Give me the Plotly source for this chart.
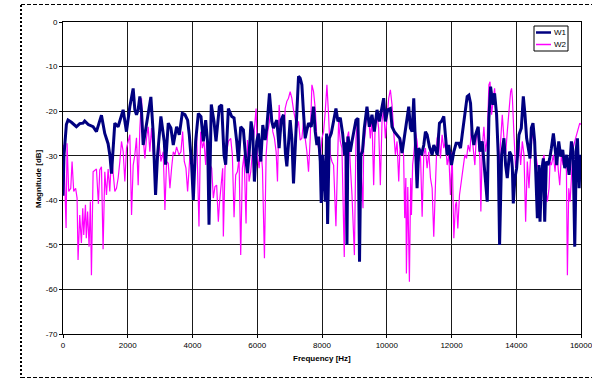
import plotly.graph_objects as go

# ---- data ----
W1_FREQ = [0, 30, 104, 155, 260, 414, 517, 620, 671, 780,
           929, 1033, 1188, 1290, 1393, 1450, 1498, 1550, 1600, 1703,
           1857, 1960, 2064, 2167, 2219, 2270, 2321, 2374, 2425, 2477,
           2580, 2714, 2787, 2859, 2920, 3024, 3127, 3168, 3251, 3333,
           3406, 3509, 3592, 3684, 3767, 3849, 3901, 3973, 4025, 4097,
           4180, 4262, 4335, 4407, 4469, 4510, 4580, 4664, 4726, 4829,
           4901, 4973, 5025, 5108, 5211, 5283, 5366, 5417, 5489, 5572,
           5644, 5696, 5747, 5809, 5861, 5912, 5985, 6036, 6109, 6171,
           6243, 6294, 6377, 6449, 6501, 6604, 6676, 6738, 6810, 6870,
           6914, 6965, 7017, 7068, 7120, 7172, 7223, 7275, 7326, 7378,
           7430, 7481, 7533, 7584, 7667, 7739, 7791, 7842, 7894, 7946,
           7976, 8020, 8100, 8142, 8173, 8224, 8286, 8358, 8431, 8492,
           8565, 8637, 8699, 8740, 8771, 8802, 8874, 8926, 8990, 9050,
           9112, 9159, 9200, 9250, 9307, 9389, 9462, 9544, 9617, 9699,
           9771, 9823, 9905, 9957, 10029, 10112, 10163, 10236, 10318, 10401,
           10473, 10525, 10607, 10679, 10731, 10783, 10834, 10886, 10937, 10989,
           11072, 11144, 11195, 11247, 11319, 11402, 11453, 11504, 11560, 11628,
           11690, 11762, 11814, 11865, 11917, 11999, 12072, 12144, 12226, 12278,
           12330, 12412, 12484, 12536, 12588, 12639, 12691, 12742, 12825, 12877,
           12949, 13052, 13104, 13155, 13207, 13279, 13331, 13393, 13444, 13485,
           13548, 13620, 13671, 13723, 13795, 13850, 13880, 13909, 13960, 14012,
           14084, 14156, 14218, 14270, 14321, 14373, 14425, 14466, 14517, 14569,
           14610, 14652, 14703, 14734, 14786, 14837, 14879, 14930, 14982, 15034,
           15085, 15147, 15199, 15250, 15312, 15374, 15436, 15498, 15560, 15632,
           15704, 15756, 15807, 15859, 15890, 15942, 15983, 16000]
W1_MAG = [-39, -30, -23, -22, -22.5, -23.5, -22.8, -22.7, -22.2, -23,
          -23.5, -24.6, -20.9, -25, -27.3, -30, -34, -28, -22.7, -23.5,
          -19.7, -24.6, -19, -14.9, -19.7, -20.8, -19.7, -16.7, -20, -27.6,
          -23, -16.8, -25, -38.8, -30, -21.2, -26.8, -32, -22.7, -23.8,
          -27.6, -23.5, -25.3, -20.5, -20.8, -22, -25.3, -32, -39.9, -26.8,
          -20.5, -21.2, -26.8, -22, -27.2, -45.5, -18.5, -22.3, -26.8, -19,
          -18.6, -29.8, -32, -19.4, -21.2, -21.5, -26.8, -31.3, -23.5, -24.2,
          -30.6, -33.9, -29.8, -22.3, -24.6, -35.8, -26.8, -25, -31.3, -23.1,
          -26.5, -23.8, -16, -22.3, -23.8, -22, -28.3, -22, -20.8, -29.5,
          -32.4, -26.8, -22, -26.1, -36.2, -28.3, -20.5, -12.2, -12.6, -14.1,
          -20.5, -26.1, -24.2, -22.7, -23.5, -19, -24.6, -27.6, -25.7, -31.3,
          -40.6, -29.8, -40.3, -25, -45.3, -26.1, -25, -22, -19.4, -22.3,
          -21.5, -25, -29.8, -27, -50, -25.7, -29.1, -26.8, -23.8, -22,
          -21.6, -53.8, -29.8, -29, -23.8, -19, -23.5, -20.8, -24.6, -19.7,
          -22.3, -20.5, -17.1, -22.3, -19.7, -19.4, -23.5, -24.6, -25.3, -26.1,
          -29.4, -26.5, -22.3, -19, -23.8, -24.6, -17.1, -26.1, -37.3, -28.3,
          -29.8, -27.6, -24.6, -25.3, -28, -29.8, -27.6, -28.5, -29.8, -22.7,
          -22.3, -21.2, -26.8, -29.8, -27.6, -32.1, -29.1, -27.2, -27.2, -28.3,
          -25.3, -20.8, -16.7, -16.4, -18.2, -25.3, -27.6, -25.3, -23.5, -29.1,
          -26.8, -35.8, -40.3, -21.6, -14.5, -18.6, -16, -20.8, -29.8, -50,
          -29.8, -26.1, -32.1, -35, -29.1, -30, -32.8, -40.7, -35, -32.8,
          -25.3, -23.8, -16.7, -20.8, -26.1, -28.3, -30.6, -23.8, -22.7, -26.8,
          -34.3, -44, -32.1, -44.8, -33.6, -30.6, -44.8, -31.3, -32.1, -30.6,
          -28.3, -25, -28.3, -32.1, -26.8, -30.2, -28.7, -32.8, -29.8, -34.3,
          -26.8, -29.1, -50.4, -28.3, -26.1, -37.3, -29.8, -31]

W2_FREQ = [0, 22, 53, 95, 125, 177, 239, 280, 331, 390,
           435, 465, 517, 568, 610, 641, 693, 720, 760, 806,
           845, 878, 930, 982, 1033, 1094, 1136, 1188, 1238, 1291,
           1343, 1394, 1446, 1498, 1549, 1601, 1652, 1704, 1756, 1807,
           1859, 1910, 1962, 2014, 2065, 2117, 2168, 2219, 2270, 2322,
           2374, 2425, 2477, 2529, 2580, 2632, 2683, 2735, 2787, 2838,
           2869, 2920, 2962, 3024, 3096, 3148, 3199, 3251, 3303, 3354,
           3406, 3457, 3509, 3581, 3643, 3695, 3746, 3798, 3849, 3922,
           3973, 4025, 4077, 4128, 4200, 4252, 4303, 4355, 4407, 4438,
           4490, 4540, 4592, 4643, 4695, 4746, 4798, 4829, 4880, 4932,
           4953, 5004, 5056, 5108, 5180, 5231, 5283, 5334, 5386, 5438,
           5489, 5541, 5593, 5654, 5696, 5747, 5799, 5851, 5902, 5933,
           5964, 6005, 6057, 6109, 6160, 6222, 6274, 6325, 6377, 6429,
           6480, 6532, 6583, 6625, 6676, 6728, 6790, 6841, 6862, 6914,
           6965, 7017, 7068, 7120, 7172, 7223, 7275, 7326, 7378, 7430,
           7481, 7533, 7584, 7636, 7688, 7739, 7791, 7842, 7894, 7946,
           7997, 8049, 8100, 8152, 8203, 8255, 8307, 8358, 8430, 8461,
           8513, 8565, 8616, 8688, 8720, 8771, 8823, 8874, 8926, 9001,
           9050, 9101, 9153, 9200, 9266, 9286, 9338, 9389, 9441, 9493,
           9544, 9596, 9647, 9699, 9750, 9802, 9854, 9905, 9957, 10008,
           10060, 10112, 10163, 10215, 10266, 10318, 10370, 10421, 10473, 10520,
           10555, 10590, 10607, 10650, 10700, 10740, 10762, 10800, 10834, 10886,
           10937, 10989, 11040, 11093, 11144, 11195, 11247, 11299, 11350, 11402,
           11452, 11480, 11504, 11555, 11607, 11659, 11710, 11762, 11814, 11865,
           11917, 11968, 12020, 12072, 12123, 12154, 12195, 12247, 12309, 12361,
           12412, 12464, 12515, 12567, 12619, 12670, 12722, 12773, 12825, 12877,
           12907, 12949, 13000, 13052, 13104, 13155, 13190, 13238, 13279, 13331,
           13382, 13434, 13465, 13517, 13568, 13620, 13671, 13723, 13774, 13826,
           13856, 13880, 13929, 13981, 14032, 14084, 14136, 14187, 14239, 14290,
           14342, 14393, 14445, 14497, 14548, 14600, 14652, 14703, 14755, 14806,
           14858, 14910, 14961, 15013, 15044, 15085, 15147, 15199, 15250, 15302,
           15343, 15395, 15446, 15498, 15550, 15580, 15622, 15663, 15705, 15756,
           15807, 15859, 15910, 15962, 16000]
W2_MAG = [-28, -27.6, -35.8, -46.2, -27.2, -38, -37.3, -31.3, -38, -37.3,
          -39.5, -53.4, -43.3, -49.6, -41.8, -47.8, -41, -48.5, -42.5, -50.4,
          -40.3, -56.8, -33.6, -33.2, -33, -40.8, -33.2, -32.5, -51, -33.6,
          -38.8, -33, -38, -29.8, -34.3, -38, -37.3, -35, -31.3, -26.8,
          -29.1, -35.8, -28.3, -26.8, -25.3, -43.3, -32.1, -29.8, -26, -36.6,
          -23.8, -17.1, -26, -30.6, -26, -23.5, -29.1, -23.8, -29.8, -35,
          -35.8, -31.3, -26.8, -31.3, -29.1, -42.2, -31.3, -31.7, -37.3, -32.8,
          -29.1, -29.8, -28, -29.8, -29.1, -24.6, -31.3, -32.8, -38, -29.8,
          -32.1, -35.8, -27.6, -25.3, -45.9, -24.6, -28.3, -26.8, -32.1, -26.1,
          -28, -32, -32.8, -39.5, -36.9, -36.6, -44.8, -41, -36.6, -32.8,
          -48.1, -32.8, -29.1, -26.8, -26.1, -29.8, -43.8, -34.3, -33.6, -30.6,
          -52.3, -32.8, -29.8, -45.2, -26.5, -35.8, -33.6, -29.1, -26.1, -21.6,
          -19.4, -29.8, -32.8, -28.3, -32.8, -53, -29.8, -24.6, -22.3, -18.6,
          -24.6, -26.1, -29.1, -35.8, -18.6, -24.6, -20.8, -24.5, -19.4, -17.8,
          -17.1, -15.6, -17.1, -19.7, -21.6, -23.8, -22.3, -26.5, -26.1, -22.3,
          -26.1, -29.1, -33.6, -26.1, -14.1, -15.6, -19.4, -26.1, -28.3, -31.3,
          -26.1, -24.6, -20.1, -14.1, -20.8, -29.8, -31.3, -32.1, -45.8, -37.3,
          -22.3, -26.8, -28.3, -52.7, -29.8, -26.1, -24.6, -32.1, -38.8, -52.3,
          -26.1, -21.6, -26.1, -32, -41.8, -28.3, -24.6, -20.1, -21.6, -26.1,
          -21.6, -36.6, -21.6, -20.8, -23.8, -36.6, -22.3, -19.4, -26.1, -22.3,
          -17.1, -15.2, -18.6, -24.6, -29.8, -26.8, -35.8, -26.1, -28.3, -29.8,
          -44, -35, -56.4, -37, -58.3, -35, -43.3, -32, -29.8, -24.6,
          -26.8, -31.3, -29.1, -43.7, -29.8, -28.3, -32.8, -29.1, -35, -37.3,
          -48.2, -38, -36.6, -26.1, -24.6, -30.6, -25.3, -28.3, -26.8, -32.1,
          -29.8, -38.8, -29.1, -48.5, -41, -40.3, -46.3, -38.8, -35.8, -32.8,
          -29.8, -30.6, -27.6, -29.1, -23.8, -28.3, -32.1, -24.6, -26.1, -30.6,
          -42.5, -28.3, -23.5, -29.1, -26.1, -14.1, -13.4, -20.8, -17.8, -14.9,
          -20.8, -28.3, -32.8, -26.8, -20.8, -26.1, -29.8, -24.6, -20.1, -15.6,
          -14.9, -17, -25.3, -32.8, -29.8, -26.1, -32.1, -26.8, -29.8, -44.8,
          -31.3, -37.3, -29.8, -24.6, -26.8, -29.8, -32.1, -33.6, -35.8, -31.3,
          -29.8, -37.3, -40.3, -37.3, -31.3, -32.1, -29.8, -33.6, -28.3, -33.6,
          -36.6, -29.8, -32.1, -29.8, -33.6, -56.8, -37.3, -40.3, -33.6, -28.3,
          -26.8, -25.3, -23.8, -22.7, -23]

SERIES_NAMES = ["W1", "W2"]
X_TICKS = list(range(0, 16001, 2000))
Y_TICKS = list(range(-70, 1, 10))

# ---- layout geometry (pixels) ----
W, H = 592, 380
L, R, T, B = 63, 11, 22, 46
PW, PH = W - L - R, H - T - B


def px(x):
    return (x - L) / PW


def py(y):
    return (H - B - y) / PH


NAVY = "#000080"
MAGENTA = "#FF00FF"
FONT = "Liberation Sans, Arial, sans-serif"

fig = go.Figure()
fig.add_trace(go.Scatter(x=W2_FREQ, y=W2_MAG, mode="lines", name=SERIES_NAMES[1],
                         line=dict(color=MAGENTA, width=1.2)))
fig.add_trace(go.Scatter(x=W1_FREQ, y=W1_MAG, mode="lines", name=SERIES_NAMES[0],
                         line=dict(color=NAVY, width=3)))

axis_common = dict(showline=True, linecolor="#000000", linewidth=1, mirror=True,
                   showgrid=True, gridcolor="#1a1a1a", gridwidth=1,
                   ticks="outside", ticklen=3, tickcolor="#000000",
                   tickfont=dict(family=FONT, size=8, color="#000000"),
                   ticklabeloverflow="allow",
                   zeroline=False)

fig.update_xaxes(range=[0, 16000], tickvals=X_TICKS,
                 ticktext=[str(v) for v in X_TICKS], **axis_common)
fig.update_yaxes(range=[-70, 0], tickvals=Y_TICKS,
                 ticktext=[str(v) for v in Y_TICKS], **axis_common)

shapes = []
# outer dashed chart border
shapes.append(dict(type="line", xref="paper", yref="paper",
                   x0=px(21), x1=px(21), y0=py(5), y1=py(378),
                   line=dict(color="#000000", width=2, dash="2px,2px")))
shapes.append(dict(type="line", xref="paper", yref="paper",
                   x0=px(21), x1=px(592), y0=py(4.5), y1=py(4.5),
                   line=dict(color="#000000", width=1, dash="4px,2px")))
shapes.append(dict(type="line", xref="paper", yref="paper",
                   x0=px(21), x1=px(592), y0=py(377.5), y1=py(377.5),
                   line=dict(color="#000000", width=1, dash="4px,2px")))
# legend box
shapes.append(dict(type="rect", xref="paper", yref="paper",
                   x0=px(534), x1=px(568), y0=py(51), y1=py(26),
                   fillcolor="#FFFFFF", line=dict(color="#000000", width=1)))
shapes.append(dict(type="line", xref="paper", yref="paper",
                   x0=px(536), x1=px(551), y0=py(32.5), y1=py(32.5),
                   line=dict(color=NAVY, width=2.5)))
shapes.append(dict(type="line", xref="paper", yref="paper",
                   x0=px(536), x1=px(551), y0=py(44.5), y1=py(44.5),
                   line=dict(color=MAGENTA, width=1.5)))

annotations = [
    dict(text=SERIES_NAMES[0], xref="paper", yref="paper", x=px(552), y=py(32.5),
         xanchor="left", yanchor="middle", showarrow=False,
         font=dict(family=FONT, size=8, color="#000000")),
    dict(text=SERIES_NAMES[1], xref="paper", yref="paper", x=px(552), y=py(44.5),
         xanchor="left", yanchor="middle", showarrow=False,
         font=dict(family=FONT, size=8, color="#000000")),
    dict(text="<b>Frequency [Hz]</b>", xref="paper", yref="paper", x=px(322), y=py(358),
         xanchor="center", yanchor="middle", showarrow=False,
         font=dict(family=FONT, size=8, color="#000000")),
    dict(text="<b>Magnitude [dB]</b>", xref="paper", yref="paper", x=px(38), y=py(179),
         xanchor="center", yanchor="middle", showarrow=False, textangle=-90,
         font=dict(family=FONT, size=8, color="#000000")),
]

fig.update_layout(width=W, height=H, margin=dict(l=L, r=R, t=T, b=B, autoexpand=False),
                  paper_bgcolor="#FFFFFF", plot_bgcolor="#FFFFFF",
                  showlegend=False, shapes=shapes, annotations=annotations,
                  font=dict(family=FONT, size=8, color="#000000"))

fig.write_html("out.html")
